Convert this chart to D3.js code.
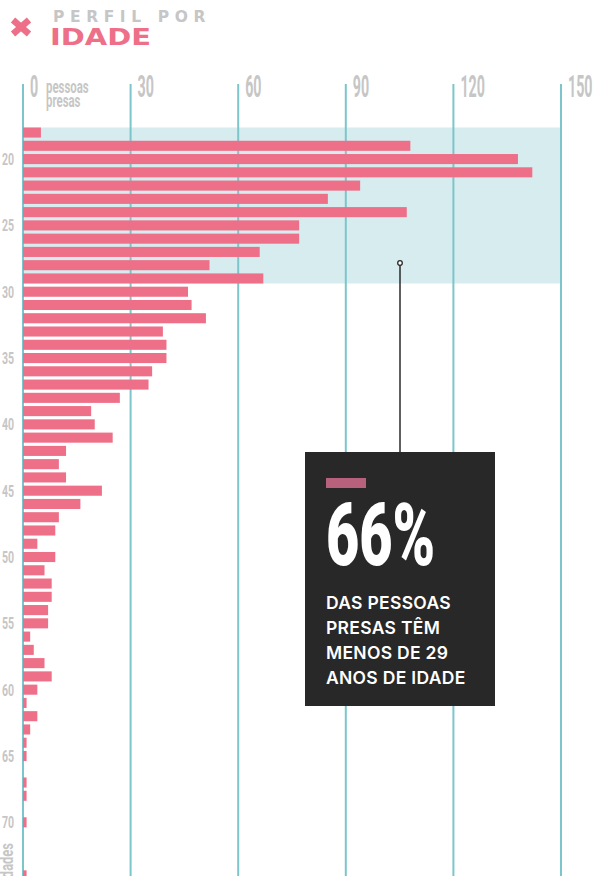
<!DOCTYPE html>
<html>
<head>
<meta charset="utf-8">
<script src="https://cdn.jsdelivr.net/npm/d3@7"></script>
<style>
  body { margin: 0; background: #fff; }
  svg { display: block; }
</style>
</head>
<body>
<div id="chart"></div>
<script>
// idade -> numero de pessoas presas
var ages = [18, 19, 20, 21, 22, 23, 24, 25, 26, 27, 28, 29, 30, 31, 32, 33, 34, 35, 36,
    37, 38, 39, 40, 41, 42, 43, 44, 45, 46, 47, 48, 49, 50, 51, 52, 53, 54, 55, 56,
    57, 58, 59, 60, 61, 62, 63, 64, 65, 66, 67, 68, 69, 70, 71, 72, 73, 74];
var presos = [5, 108, 138, 142, 94, 85, 107, 77, 77, 66, 52, 67, 46, 47, 51, 39, 40, 40, 36,
    35, 27, 19, 20, 25, 12, 10, 12, 22, 16, 10, 9, 4, 9, 6, 8, 8, 7, 7, 2,
    3, 6, 8, 4, 1, 4, 2, 1, 1, 0, 1, 1, 0, 1, 0, 0, 0, 1];
var xTicks = [0, 30, 60, 90, 120, 150];
var ageLabels = [20, 25, 30, 35, 40, 45, 50, 55, 60, 65, 70];
var bandAges = [18, 29];
var boxLines = ["DAS PESSOAS", "PRESAS TÊM", "MENOS DE 29", "ANOS DE IDADE"];

var width = 593,
    height = 876;

var pink = '#ee6f88',
    teal = '#7cc6cb',
    grey = '#c6c6c6';

var svg = d3.select('#chart')
    .append('svg')
    .attr('width', width)
    .attr('height', height);

var x = d3.scaleLinear()
    .domain([0, 150])
    .range([23, 561]);

// one row per age
var y = d3.scaleLinear()
    .domain([18, 75])
    .range([127.5, 883.6]);

var barH = (y(19) - y(18)) * 0.76;

// highlight band for ages under 30
svg.append('rect')
    .attr('x', x(0))
    .attr('y', y(bandAges[0]))
    .attr('width', x(150) - x(0))
    .attr('height', y(bandAges[1]) + barH - y(bandAges[0]))
    .style('fill', '#d7ecef');

// gridlines
svg.selectAll('.grid')
    .data(xTicks)
    .enter()
    .append('line')
    .attr('class', 'grid')
    .attr('x1', function(d) { return x(d); })
    .attr('x2', function(d) { return x(d); })
    .attr('y1', 84)
    .attr('y2', height)
    .style('stroke', teal)
    .style('stroke-width', 2);

// tick labels (squeezed to look condensed)
svg.selectAll('.tick-label')
    .data(xTicks)
    .enter()
    .append('text')
    .attr('class', 'tick-label')
    .attr('transform', function(d) {
        return 'translate(' + (x(d) + 7) + ',97) scale(0.46,1)';
    })
    .style('font-family', 'Roboto')
    .style('font-weight', 700)
    .style('font-size', '31px')
    .style('fill', grey)
    .text(function(d) { return d; });

svg.selectAll('.unit')
    .data(['pessoas', 'presas'])
    .enter()
    .append('text')
    .attr('class', 'unit')
    .attr('transform', function(d, i) {
        return 'translate(' + (x(0) + 23) + ',' + (93 + i * 14) + ') scale(0.6,1)';
    })
    .style('font-family', 'Roboto')
    .style('font-weight', 700)
    .style('font-size', '19px')
    .style('fill', grey)
    .text(function(d) { return d; });

// bars
svg.selectAll('.bar')
    .data(ages)
    .enter()
    .append('rect')
    .attr('class', 'bar')
    .attr('x', x(0))
    .attr('y', function(d) { return y(d); })
    .attr('width', function(d, i) { return x(presos[i]) - x(0); })
    .attr('height', barH)
    .style('fill', pink);

// age labels
svg.selectAll('.age')
    .data(ageLabels)
    .enter()
    .append('text')
    .attr('class', 'age')
    .attr('transform', function(d) {
        return 'translate(14,' + (y(d) + barH / 2 + 6) + ') scale(0.62,1)';
    })
    .attr('text-anchor', 'end')
    .style('font-family', 'Roboto')
    .style('font-weight', 700)
    .style('font-size', '17px')
    .style('fill', grey)
    .text(function(d) { return d; });

// axis title, runs off the page bottom like the original
svg.append('text')
    .attr('transform', 'translate(12.5,843) rotate(-90) scale(0.72,1)')
    .attr('text-anchor', 'end')
    .style('font-family', 'Roboto')
    .style('font-weight', 700)
    .style('font-size', '18px')
    .style('fill', grey)
    .text('idades');

// header
var cross = svg.append('g')
    .attr('transform', 'translate(21,27)');
cross.append('line')
    .attr('x1', -8).attr('y1', -7).attr('x2', 8).attr('y2', 7);
cross.append('line')
    .attr('x1', -8).attr('y1', 7).attr('x2', 8).attr('y2', -7);
cross.selectAll('line')
    .style('stroke', pink)
    .style('stroke-width', 6.5);

svg.append('text')
    .attr('x', 53)
    .attr('y', 22)
    .style('font-family', 'DejaVu Sans')
    .style('font-weight', 700)
    .style('font-size', '15.5px')
    .style('letter-spacing', '5.6px')
    .style('fill', grey)
    .text('PERFIL POR');

svg.append('text')
    .attr('transform', 'translate(50,45) scale(1.26,1)')
    .style('font-family', 'DejaVu Sans')
    .style('font-weight', 700)
    .style('font-size', '23px')
    .style('fill', pink)
    .text('IDADE');

// annotation
svg.append('line')
    .attr('x1', 400).attr('x2', 400)
    .attr('y1', 263).attr('y2', 455)
    .style('stroke', '#2a2a2a')
    .style('stroke-width', 1.5);
svg.append('circle')
    .attr('cx', 400).attr('cy', 263).attr('r', 2.3)
    .style('fill', '#fff')
    .style('stroke', '#2a2a2a')
    .style('stroke-width', 1.3);

var box = svg.append('g')
    .attr('transform', 'translate(305,452)');
box.append('rect')
    .attr('width', 190)
    .attr('height', 254)
    .style('fill', '#282828');
box.append('rect')
    .attr('x', 21).attr('y', 26)
    .attr('width', 40).attr('height', 10)
    .style('fill', '#b8617c');
box.append('text')
    .attr('transform', 'translate(21,113) scale(0.66,1)')
    .style('font-family', 'Roboto')
    .style('font-weight', 900)
    .style('font-size', '87px')
    .style('fill', '#fff')
    .text('66%');
box.selectAll('.line')
    .data(boxLines)
    .enter()
    .append('text')
    .attr('class', 'line')
    .attr('x', 21)
    .attr('y', function(d, i) { return 157 + i * 25; })
    .style('font-family', 'Inter')
    .style('font-weight', 600)
    .style('font-size', '17.5px')
    .style('letter-spacing', '0.3px')
    .style('fill', '#fff')
    .text(function(d) { return d; });
</script>
</body>
</html>
